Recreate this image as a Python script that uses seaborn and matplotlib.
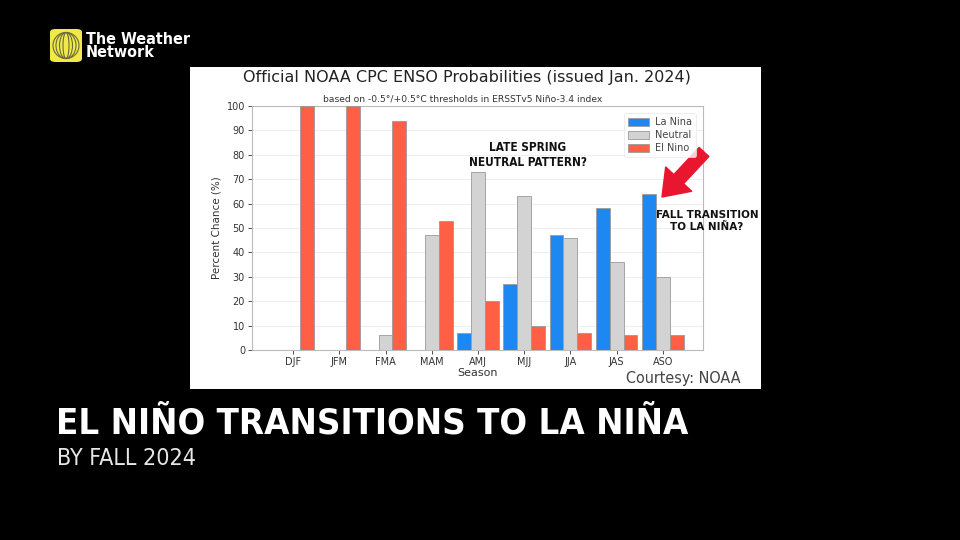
import matplotlib
matplotlib.use("Agg")
import matplotlib.pyplot as plt
import seaborn as sns
import pandas as pd
import numpy as np
from matplotlib import font_manager
from matplotlib.patches import Rectangle, FancyBboxPatch, Ellipse

seasons = ["DJF", "JFM", "FMA", "MAM", "AMJ", "MJJ", "JJA", "JAS", "ASO"]
la_nina = [0, 0, 0, 0, 7, 27, 47, 58, 64]
neutral = [0, 0, 6, 47, 73, 63, 46, 36, 30]
el_nino = [100, 100, 94, 53, 20, 10, 7, 6, 6]
categories = ["La Nina", "Neutral", "El Nino"]
y_ticks = [0, 10, 20, 30, 40, 50, 60, 70, 80, 90, 100]

# pick a condensed font if one is installed
cond_family, cond_stretch = "DejaVu Sans", "normal"
for f in font_manager.fontManager.ttflist:
    nm = (f.name + " " + f.fname).lower()
    if f.stretch in ("condensed", "semi-condensed", "extra-condensed") or "narrow" in nm or "condensed" in nm:
        cond_family = f.name
        cond_stretch = "condensed" if f.stretch in ("condensed", "semi-condensed", "extra-condensed") else "normal"
        break

df = pd.DataFrame({
    "Season": seasons * 3,
    "Value": la_nina + neutral + el_nino,
    "Cat": [c for c in categories for _ in seasons],
})

sns.set_style("white")
plt.rcParams["font.family"] = ["DejaVu Sans"]

fig = plt.figure(figsize=(9.6, 5.4), dpi=100, facecolor="black")

# white inset panel (behind axes)
fig.patches.append(Rectangle((190 / 960, 1 - 389 / 540), 571 / 960, 322 / 540,
                             transform=fig.transFigure, facecolor="white",
                             edgecolor="none", zorder=-5))

ax = fig.add_axes([252 / 960, 1 - 350 / 540, 451 / 960, 244 / 540])
ax.set_zorder(1)
ax.set_facecolor("white")
palette = {"La Nina": "#1e88f2", "Neutral": "#d3d3d3", "El Nino": "#ff5f45"}
sns.barplot(data=df, x="Season", y="Value", hue="Cat", hue_order=categories,
            order=seasons, palette=palette, width=0.9, gap=0, saturation=1,
            edgecolor="#9a9a9a", linewidth=0.6, ax=ax, zorder=3)

ax.set_ylim(0, 100)
ax.set_xlim(-0.89, 8.87)
ax.set_yticks(y_ticks)
ax.yaxis.grid(True, color="#eeeeee", linewidth=0.8, zorder=0)
ax.set_axisbelow(True)
ax.tick_params(axis="both", labelsize=7, colors="#333333", length=3, width=0.6,
               pad=2, left=True, bottom=True)
for s in ax.spines.values():
    s.set_color("#bbbbbb")
    s.set_linewidth(0.8)
ax.set_xlabel("Season", fontsize=8, color="#333333", labelpad=1)
ax.set_ylabel("Percent Chance (%)", fontsize=7.5, color="#333333", labelpad=4)

leg = ax.legend(loc="upper right", fontsize=7, frameon=True, handlelength=2.2,
                handleheight=0.85, labelspacing=0.3, borderpad=0.4, handletextpad=0.6,
                bbox_to_anchor=(0.995, 0.99))
leg.get_frame().set_edgecolor("#e6e6e6")
leg.get_frame().set_linewidth(0.6)
for t in leg.get_texts():
    t.set_color("#444444")

fig.text(467 / 960, 1 - 78 / 540, "Official NOAA CPC ENSO Probabilities (issued Jan. 2024)",
         ha="center", va="center", fontsize=11.5, color="#222222")
fig.text(463 / 960, 1 - 99 / 540, "based on -0.5°/+0.5°C thresholds in ERSSTv5 Niño-3.4 index",
         ha="center", va="center", fontsize=6.6, color="#333333")

renderer = fig.canvas.get_renderer()


def fit(t, target_w):
    """shrink font size so text width matches target width in pixels"""
    w = t.get_window_extent(renderer).width
    if w > target_w:
        t.set_fontsize(t.get_fontsize() * target_w / w)
    return t


cprops = dict(family=cond_family, fontstretch=cond_stretch)

fit(fig.text(528 / 960, 1 - 155 / 540, "LATE SPRING\nNEUTRAL PATTERN?", ha="center", va="center",
             fontsize=8.5, fontweight="bold", color="#111111", linespacing=1.25, **cprops), 124)
fit(fig.text(707 / 960, 1 - 221 / 540, "FALL TRANSITION\nTO LA NIÑA?", ha="center", va="center",
             fontsize=8.5, fontweight="bold", color="#111111", linespacing=1.25, **cprops), 101)

ax.annotate("", xy=(662, 540 - 197), xycoords="figure pixels",
            xytext=(704, 540 - 152), textcoords="figure pixels",
            arrowprops=dict(arrowstyle="simple,head_length=1.1,head_width=1.6,tail_width=0.6",
                            color="#e8162e", mutation_scale=16, shrinkA=0, shrinkB=0))

fit(fig.text(741 / 960, 1 - 378 / 540, "Courtesy: NOAA", ha="right", va="center",
             fontsize=11.5, color="#444444", **cprops), 121)

# logo
fig.patches.append(FancyBboxPatch((50 / 960, 1 - 62 / 540), 32 / 960, 33 / 540,
                                  boxstyle="round,pad=0,rounding_size=0.006",
                                  transform=fig.transFigure, facecolor="#f1e84a",
                                  edgecolor="none", zorder=1))
for i, w in enumerate([26, 20, 13, 6]):
    fig.patches.append(Ellipse((66 / 960, 1 - 45.5 / 540), w / 960, 26 / 540,
                               angle=0, transform=fig.transFigure, fill=False,
                               edgecolor="#6b6b3a", linewidth=0.8, zorder=2))
fit(fig.text(86 / 960, 1 - 46 / 540, "The Weather\nNetwork", ha="left", va="center",
             fontsize=12.5, fontweight="bold", color="white", linespacing=0.85, **cprops), 104)

fit(fig.text(56 / 960, 1 - 434 / 540, "EL NIÑO TRANSITIONS TO LA NIÑA", ha="left",
             va="baseline", fontsize=31, fontweight="bold", color="white", **cprops), 632)
fit(fig.text(57 / 960, 1 - 465 / 540, "BY FALL 2024", ha="left", va="baseline",
             fontsize=20, color="#e6e6e6", **cprops), 139)

fig.savefig("out.png", dpi=100, facecolor="black")
